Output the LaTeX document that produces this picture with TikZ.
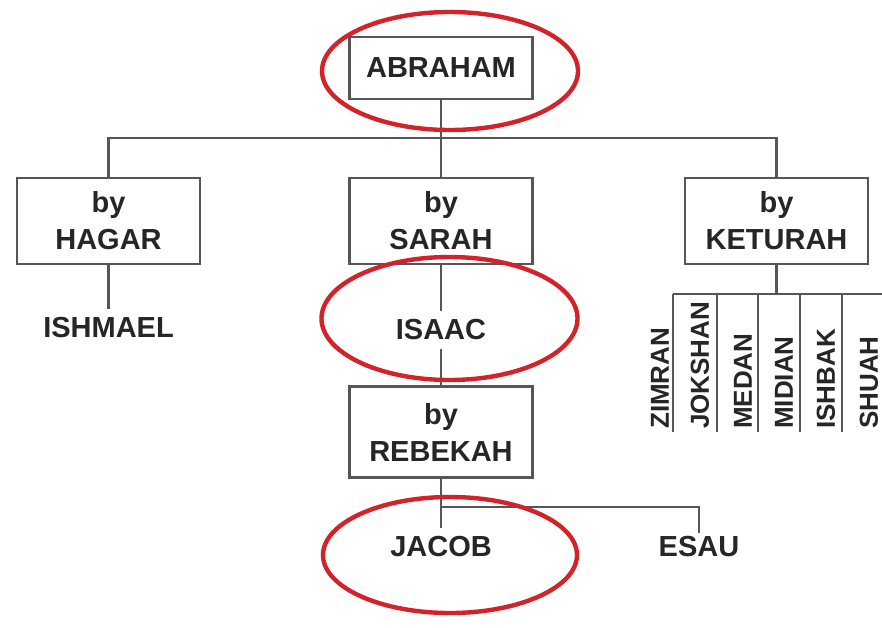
\documentclass[tikz,border=0pt]{standalone}
\usepackage{fontspec}
\setmainfont{Liberation Sans}
\usetikzlibrary{shapes.geometric}
\definecolor{ink}{HTML}{262626}
\definecolor{wire}{HTML}{565656}
\definecolor{redc}{HTML}{D2232A}
\tikzset{
  box/.style={draw=wire,line width=2.6pt,fill=white,minimum width=183pt,align=center,text=ink,font=\fontsize{29}{37}\selectfont\bfseries},
  kid/.style={text=ink,inner sep=9pt,font=\fontsize{29}{34}\selectfont\bfseries},
  son/.style={text=ink,inner sep=0pt,rotate=90,anchor=west,font=\fontsize{26}{30}\selectfont\bfseries},
  link/.style={draw=wire,line width=2.4pt},
  hoop/.style={ellipse,draw=redc,line width=4.4pt},
}
\begin{document}
\begin{tikzpicture}[x=1pt,y=-1pt]
\useasboundingbox[fill=white] (0,0) rectangle (882,627);
% parents
\node[box,minimum height=62pt] (abraham) at (441,68) {ABRAHAM};
\node[box,minimum height=86pt] (hagar) at (108.5,221) {by\\HAGAR};
\node[box,minimum height=86pt] (sarah) at (441,221) {by\\SARAH};
\node[box,minimum height=86pt] (keturah) at (776.5,221) {by\\KETURAH};
\node[box,minimum height=91pt] (rebekah) at (441,432) {by\\REBEKAH};
% sons
\node[kid] (ishmael) at (108.5,328) {ISHMAEL};
\node[kid] (isaac) at (441,330) {ISAAC};
\node[kid] (jacob) at (441,547) {JACOB};
\node[kid,inner sep=4pt] (esau) at (699,547) {ESAU};
\foreach \x/\n/\t in {660/zimran/ZIMRAN,700/jokshan/JOKSHAN,743/medan/MEDAN,784/midian/MIDIAN,826/ishbak/ISHBAK,869/shuah/SHUAH}
  \node[son] (\n) at (\x,429) {\t};
% connectors
\draw[link] (hagar.north) -- ++(0,-39) -| (keturah.north);
\draw[link] (abraham.south) -- (sarah.north);
\draw[link] (hagar.south) -- (ishmael.north);
\draw[link] (sarah.south) -- (isaac.north);
\draw[link] (isaac.south) -- (rebekah.north);
\draw[link] (rebekah.south) -- (jacob.north);
\draw[link] (rebekah.south) -- ++(0,28) -| (esau.north);
\draw[link] (keturah.south) -- ++(0,29) coordinate (kj);
\coordinate (kl) at (673,294);
\coordinate (kr) at (882,294);
\draw[link] (kl) -- (kr);
\foreach \x [count=\i] in {673,717,758,800,842} {
  \coordinate (kt\i) at (\x,294);
  \coordinate (kb\i) at (\x,432);
  \draw[link] (kt\i) -- (kb\i);
}
% highlight rings
\node[hoop,minimum width=256pt,minimum height=118pt] (ringA) at (450,71) {};
\node[hoop,minimum width=256pt,minimum height=123pt] (ringI) at (449.5,318.5) {};
\node[hoop,minimum width=254pt,minimum height=116pt] (ringJ) at (450,555) {};
\end{tikzpicture}
\end{document}
